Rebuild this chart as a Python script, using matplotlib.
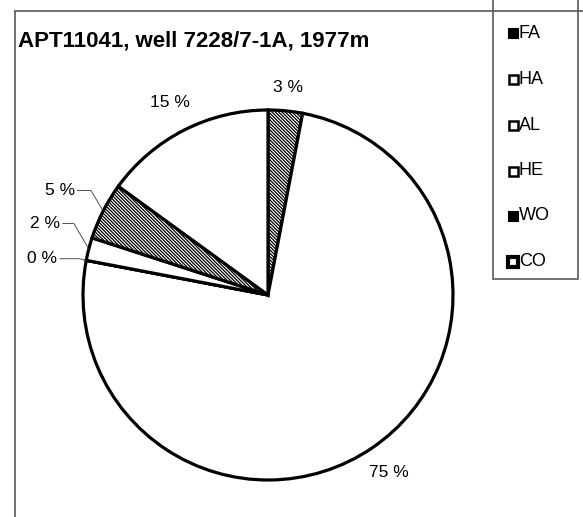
import numpy as np
import matplotlib
matplotlib.use("Agg")
import matplotlib.pyplot as plt
from matplotlib.patches import Rectangle
from matplotlib.lines import Line2D

# Composition of sample APT11041 (percent)
categories = ["FA", "HA", "AL", "HE", "WO", "CO"]
values = [3, 75, 0, 2, 5, 15]
hatched = [True, False, False, False, True, False]
title = "APT11041, well 7228/7-1A, 1977m"

plt.rcParams["font.family"] = ["Liberation Sans", "DejaVu Sans"]
plt.rcParams["hatch.linewidth"] = 0.9

W, H = 583, 517
fig = plt.figure(figsize=(W / 100, H / 100), dpi=100)
fig.patch.set_facecolor("white")

# pie placement in pixels
cx, cy, R = 268, 295, 185
L = 1.4
ax = fig.add_axes([(cx - R * L) / W, (H - cy - R * L) / H, 2 * L * R / W, 2 * L * R / H])
ax.axis("off")

wedges, _ = ax.pie(
    values,
    startangle=90,
    counterclock=False,
    colors=["white"] * len(values),
    hatch=["\\" * 10 if h else "" for h in hatched],
    wedgeprops=dict(edgecolor="black", linewidth=2.3),
    radius=1.0,
)
ax.set_xlim(-L, L)
ax.set_ylim(-L, L)
ax.set_aspect("equal")

labels = [f"{v} %" for v in values]
cum = np.cumsum(values)
mid = 360.0 * (cum - np.array(values) / 2.0) / sum(values)

# labels placed radially outside the pie
radial = {0: 1.125, 1: 1.16, 5: 1.17}
for i, r in radial.items():
    t = np.deg2rad(mid[i])
    ax.text(r * np.sin(t), r * np.cos(t), labels[i], ha="center", va="center", fontsize=12.5)

# small slices get labels with leader lines (text y, elbow x, text right x in data units)
leaders = {4: (0.565, -0.957, -1.045), 3: (0.386, -1.049, -1.125), 2: (0.196, -1.02, -1.14)}
for i, (ty, ex, tx) in leaders.items():
    t = np.deg2rad(mid[i])
    px, py = np.sin(t), np.cos(t)
    ax.plot([tx + 0.015, ex, px], [ty, ty, py], color="#333333", lw=0.6)
    ax.text(tx, ty, labels[i], ha="right", va="center", fontsize=12.5)

# title
fig.text(18 / W, 1 - 41 / H, title, ha="left", va="center", fontsize=16, weight="bold")

# outer frame (left and top edges)
frame_col = "#5a5a5a"
fig.add_artist(Line2D([14.5 / W, 14.5 / W], [0, 1 - 11 / H], color=frame_col, lw=1.2))
fig.add_artist(Line2D([14.5 / W, 1], [1 - 11 / H, 1 - 11 / H], color=frame_col, lw=1.2))

# legend box
lx0, lx1, ly1 = 493, 578, 279
fig.add_artist(Rectangle((lx0 / W, 1 - ly1 / H), (lx1 - lx0) / W, (ly1 + 10) / H,
                         transform=fig.transFigure, facecolor="white",
                         edgecolor=frame_col, lw=1.2))
row_y = [33, 79, 125, 171, 216, 262]
for name, h, y in zip(categories, hatched, row_y):
    s = 10
    x0 = 508
    if h:
        sq = Rectangle((x0 / W, 1 - (y + s / 2) / H), s / W, s / H, transform=fig.transFigure,
                       facecolor="black", edgecolor="black", lw=0.8)
    elif name == "CO":
        sq = Rectangle((x0 / W, 1 - (y + s / 2) / H), s / W, s / H, transform=fig.transFigure,
                       facecolor="white", edgecolor="black", lw=3.0)
    else:
        sq = Rectangle(((x0 + 0.5) / W, 1 - (y + s / 2 - 0.5) / H), (s - 1) / W, (s - 1) / H,
                       transform=fig.transFigure, facecolor="white", edgecolor="black", lw=1.8)
    fig.add_artist(sq)
    fig.text((x0 + s + 1) / W, 1 - y / H, name, ha="left", va="center", fontsize=13)

fig.savefig("out.png", dpi=100, facecolor="white")
